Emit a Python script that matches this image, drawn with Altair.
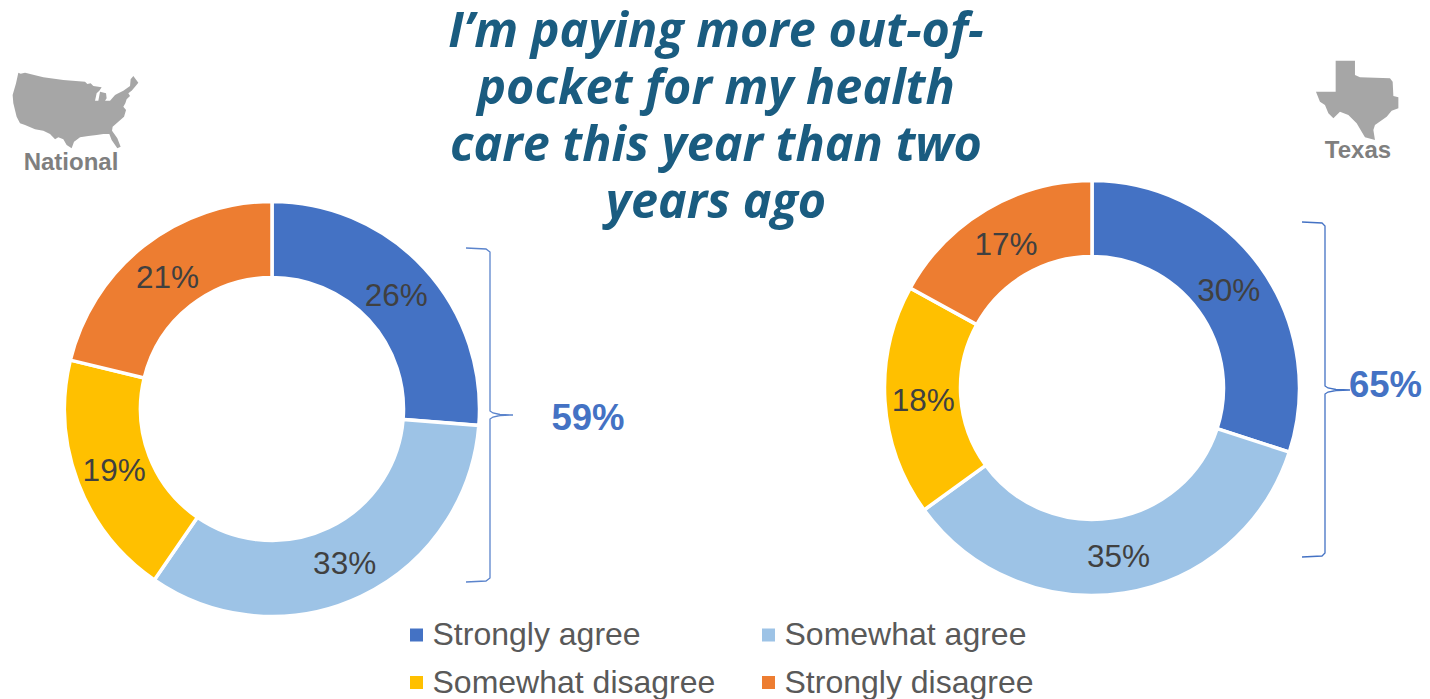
import altair as alt
import pandas as pd

W, H = 1414, 691
OFF = 8

categories = ["Strongly agree", "Somewhat agree", "Somewhat disagree", "Strongly disagree"]
colors = ["#4472C4", "#9DC3E6", "#FFC000", "#ED7D31"]
national = [26, 33, 19, 21]
texas = [30, 35, 18, 17]

title_lines = ["I’m paying more out-of-", "pocket for my health", "care this year than two", "years ago"]
title_x = [716, 716, 716, 716]
title_y = [47, 104, 161, 218]

us_zoom = [(55,38),(62,41),(75,38),(130,52),(190,60),(255,65),(262,72),(272,70),(280,78),(305,82),(298,92),(290,100),
           (285,122),(295,122),(300,95),(318,100),(320,115),(315,122),(330,122),(345,105),(355,100),(370,92),
           (390,78),(392,58),(400,48),(415,68),(405,80),(395,92),(385,100),(390,108),(380,118),(376,130),(370,140),
           (378,150),(372,170),(355,185),(338,200),(336,212),(352,235),(362,260),(352,265),(335,240),(328,222),(310,222),
           (290,225),(265,228),(240,232),(222,245),(215,265),(200,255),(190,238),(175,232),(165,238),(150,222),(130,212),
           (105,208),(75,195),(60,190),(50,170),(40,130),(38,105),(48,70)]
tx_zoom = [(137,32),(195,32),(195,75),(210,82),(300,85),(308,95),(310,138),(325,142),(325,175),(305,182),(290,200),
           (255,225),(250,240),(255,270),(225,262),(215,245),(200,220),(175,195),(150,185),(130,205),(115,190),(105,165),
           (90,155),(78,125),(137,125)]

brace_a_x = [466,486,490,490,493,500,513,500,493,490,490,486,466]
brace_a_y = [248,249,252,411,413,414.5,415,415.5,417,419,578,581,582]
brace_b_x = [1302,1322,1325,1325,1328,1336,1350,1336,1328,1325,1325,1322,1302]
brace_b_y = [222,223,226,386,388,389.5,390,390.5,392,394,553,556,557]

px = alt.Scale(domain=[OFF, OFF + W], range=[0, W])
py = alt.Scale(domain=[OFF, OFF + H], range=[0, H])
X = lambda f: alt.X(f, scale=px, axis=None)
Y = lambda f: alt.Y(f, scale=py, axis=None)

color_scale = alt.Scale(domain=categories, range=colors)
legend = alt.Legend(
    title=None, orient="none", legendX=392.5, legendY=611, direction="horizontal", columns=2,
    symbolType="square", symbolSize=169, symbolStrokeWidth=0, labelFont="Liberation Sans", labelFontSize=32,
    labelColor="#595959", labelOffset=0, columnPadding=37, rowPadding=15.5, padding=0, labelLimit=400,
)


def donut(values, cx, cy):
    df = pd.DataFrame({"cat": categories, "v": values, "o": range(4), "label": [f"{v}%" for v in values]})
    theta = alt.Theta("v:Q", stack=True, scale=alt.Scale(domain=[0, sum(values)], range=[0, 6.28318530718]))
    base = alt.Chart(df).encode(theta=theta, order=alt.Order("o:Q"), x=alt.value(cx - OFF), y=alt.value(cy - OFF))
    arc = base.mark_arc(radius=207.5, innerRadius=131.5, stroke="white", strokeWidth=3.5).encode(
        color=alt.Color("cat:N", scale=color_scale, sort=categories, legend=legend)
    )
    text = base.mark_text(radius=169, dy=3, font="Liberation Sans", fontSize=31.5, color="#404040").encode(
        text="label:N", detail="cat:N"
    )
    return [arc, text]


def labels(rows, **mark):
    return alt.Chart(pd.DataFrame(rows, columns=["t", "x", "y"])).mark_text(baseline="alphabetic", **mark).encode(
        x=X("x:Q"), y=Y("y:Q"), text="t:N"
    )


def brace(xs, ys, color):
    df = pd.DataFrame({"x": xs, "y": ys, "i": range(len(xs))})
    return alt.Chart(df).mark_line(color=color, strokeWidth=1.3).encode(x=X("x:Q"), y=Y("y:Q"), order="i:Q")


def silhouette(points, ox, oy):
    abs_pts = [(ox + a / 3, oy + b / 3) for a, b in points]
    ax, ay = abs_pts[0]
    path = "M" + "L".join(f"{x - ax:.1f},{y - ay:.1f}" for x, y in abs_pts) + "Z"
    return alt.Chart(pd.DataFrame({"x": [ax], "y": [ay]})).mark_point(
        shape=path, size=4, filled=True, color="#A6A6A6", opacity=1, strokeWidth=0
    ).encode(x=X("x:Q"), y=Y("y:Q"))


layers = donut(national, 272, 409) + donut(texas, 1092, 388) + [
    brace(brace_a_x, brace_a_y, "#5B84CC"),
    brace(brace_b_x, brace_b_y, "#4472C4"),
    silhouette(us_zoom, 0, 60),
    silhouette(tx_zoom, 1290, 50),
    labels(list(zip(title_lines, title_x, title_y)), font="Open Sans", fontSize=48.5, fontWeight="bold",
           fontStyle="italic", color="#1A5C80", align="center"),
    labels([("National", 71, 170), ("Texas", 1358, 158)], font="Liberation Sans", fontSize=24, fontWeight="bold",
           color="#7F7F7F", align="center"),
    labels([("59%", 588, 430), ("65%", 1385.5, 397)], font="Liberation Sans", fontSize=36.5, fontWeight="bold",
           color="#4472C4", align="center"),
]

chart = alt.layer(*layers).resolve_scale(theta="independent").properties(
    width=W, height=H, padding=0, autosize=alt.AutoSizeParams(type="none")
).configure_view(stroke=None)

chart.save("out.html", embed_options={"renderer": "svg", "actions": False})
